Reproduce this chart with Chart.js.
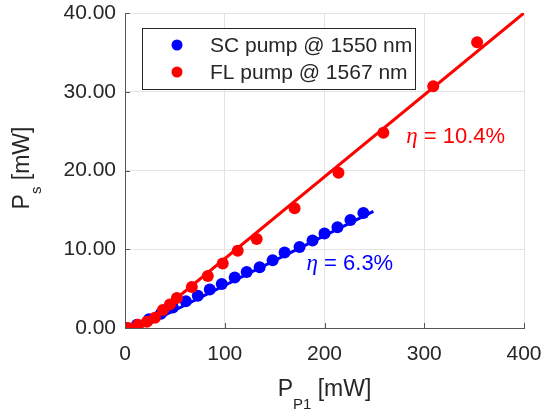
<!DOCTYPE html>
<html>
<head>
<meta charset="utf-8">
<script src="https://cdn.jsdelivr.net/npm/chart.js@4.4.1/dist/chart.umd.min.js"></script>
<style>
  html, body { margin: 0; padding: 0; background: #ffffff; }
  #wrap { width: 546px; height: 412px; position: relative; }
</style>
</head>
<body>
<div id="wrap"><canvas id="c" width="546" height="412"></canvas></div>
<script>
// ---- data ----
const seriesLabels = ['SC pump @ 1550 nm', 'FL pump @ 1567 nm'];
const scX = [0, 12, 24, 36, 48, 61, 73, 85, 97, 110, 122, 135, 148, 160, 175, 188, 200, 213, 226, 239];
const scY = [0.0, 0.4, 1.1, 1.8, 2.6, 3.4, 4.1, 4.9, 5.6, 6.4, 7.1, 7.7, 8.6, 9.6, 10.3, 11.1, 12.0, 12.8, 13.7, 14.6];
const flX = [3, 13, 22, 30, 38, 45, 52, 67, 83, 98, 113, 132, 170, 214, 259, 309, 353];
const flY = [0.0, 0.4, 0.8, 1.3, 2.3, 3.0, 3.8, 5.2, 6.6, 8.2, 9.8, 11.3, 15.2, 19.7, 24.8, 30.7, 36.3];
const scFitX = [14, 249];
const scFitY = [0, 14.8];
const flFitX = [15.4, 400];
const flFitY = [0, 40];
const xTicks = [0, 100, 200, 300, 400];
const yTicks = [0, 10, 20, 30, 40];
const etaLabels = ['6.3%', '10.4%'];
const etaPosX = [182, 282];
const etaPosY = [7.4, 23.5];

const BLUE = '#0000ff';
const RED = '#ff0000';
const TXT = '#262626';
const AX = '#555555';
const FONT = '"Liberation Sans", Arial, Helvetica, sans-serif';

const pts = (xs, ys) => xs.map((x, i) => ({ x: x, y: ys[i] }));

const decor = {
  id: 'decor',
  afterDraw(chart) {
    const ctx = chart.ctx;
    const xs = chart.scales.x, ys = chart.scales.y;
    const ca = chart.chartArea;
    ctx.save();
    // inward ticks
    ctx.strokeStyle = AX;
    ctx.lineWidth = 1;
    xTicks.forEach(v => {
      const px = Math.round(xs.getPixelForValue(v)) + 0.5;
      ctx.beginPath(); ctx.moveTo(px, ca.bottom); ctx.lineTo(px, ca.bottom - 5); ctx.stroke();
    });
    yTicks.forEach(v => {
      const py = Math.round(ys.getPixelForValue(v)) + 0.5;
      ctx.beginPath(); ctx.moveTo(ca.left, py); ctx.lineTo(ca.left + 5, py); ctx.stroke();
    });

    // legend
    const lx = ca.left + 17, ly = ca.top + 15, lw = 273, lh = 61;
    ctx.fillStyle = '#ffffff';
    ctx.fillRect(lx, ly, lw, lh);
    ctx.strokeStyle = '#262626';
    ctx.lineWidth = 1;
    ctx.strokeRect(lx + 0.5, ly + 0.5, lw, lh);
    const legendSets = chart.data.datasets.filter(d => d.inLegend);
    legendSets.forEach((d, i) => {
      const cy = ly + 17 + i * 27;
      ctx.fillStyle = d.backgroundColor;
      ctx.beginPath(); ctx.arc(lx + 35, cy, 5.5, 0, Math.PI * 2); ctx.fill();
      ctx.fillStyle = TXT;
      ctx.font = '21px ' + FONT;
      ctx.textBaseline = 'middle';
      ctx.textAlign = 'left';
      ctx.fillText(d.label, lx + 68, cy + 1);
    });

    // eta annotations
    const etaColors = [BLUE, RED];
    etaLabels.forEach((t, i) => {
      let px = xs.getPixelForValue(etaPosX[i]);
      const py = ys.getPixelForValue(etaPosY[i]);
      ctx.fillStyle = etaColors[i];
      ctx.textBaseline = 'alphabetic';
      ctx.textAlign = 'left';
      ctx.font = 'italic 23px "Liberation Serif", "Times New Roman", serif';
      ctx.fillText('\u03b7', px, py);
      px += ctx.measureText('\u03b7').width;
      ctx.font = '22px ' + FONT;
      ctx.fillText(' = ' + t, px, py);
    });

    // axis titles with subscripts
    function parts(list) {
      let w = 0;
      list.forEach(p => { ctx.font = p.size + 'px ' + FONT; p.w = ctx.measureText(p.t).width; w += p.w; });
      return w;
    }
    ctx.fillStyle = TXT;
    ctx.textAlign = 'left';
    ctx.textBaseline = 'alphabetic';
    const xt = [{ t: 'P', size: 23, dy: 0 }, { t: 'P1', size: 15, dy: 13 }, { t: ' [mW]', size: 23, dy: 0 }];
    let wx = parts(xt);
    let sx = (ca.left + ca.right) / 2 - wx / 2;
    xt.forEach(p => { ctx.font = p.size + 'px ' + FONT; ctx.fillText(p.t, sx, 396 + p.dy); sx += p.w; });

    const yt = [{ t: 'P', size: 23, dy: 0 }, { t: 's', size: 15, dy: 12 }, { t: ' [mW]', size: 23, dy: 0 }];
    let wy = parts(yt);
    ctx.save();
    ctx.translate(29, 168);
    ctx.rotate(-Math.PI / 2);
    let sy = -wy / 2;
    yt.forEach(p => { ctx.font = p.size + 'px ' + FONT; ctx.fillText(p.t, sy, p.dy); sy += p.w; });
    ctx.restore();

    ctx.restore();
  }
};

new Chart(document.getElementById('c'), {
  type: 'scatter',
  data: {
    datasets: [
      { label: seriesLabels[0], inLegend: true, data: pts(scX, scY), backgroundColor: BLUE, borderColor: BLUE, pointRadius: 6, borderWidth: 0, order: 4 },
      { label: 'fit1', data: pts(scFitX, scFitY), showLine: true, borderColor: BLUE, backgroundColor: BLUE, borderWidth: 3, pointRadius: 0, order: 3 },
      { label: seriesLabels[1], inLegend: true, data: pts(flX, flY), backgroundColor: RED, borderColor: RED, pointRadius: 6, borderWidth: 0, order: 2 },
      { label: 'fit2', data: pts(flFitX, flFitY), showLine: true, borderColor: RED, backgroundColor: RED, borderWidth: 3, pointRadius: 0, order: 1 }
    ]
  },
  options: {
    responsive: false,
    animation: false,
    layout: { padding: { left: 0, right: 22, top: 13, bottom: 0 } },
    plugins: { legend: { display: false }, tooltip: { enabled: false } },
    scales: {
      x: {
        type: 'linear', min: 0, max: 400,
        afterBuildTicks: s => { s.ticks = xTicks.map(v => ({ value: v })); },
        afterFit: s => { s.height = 84; s.paddingLeft = 0; s.paddingRight = 0; s.paddingTop = 0; s.paddingBottom = 0; },
        grid: { color: '#e3e3e3', drawTicks: false },
        border: { color: AX, width: 1 },
        ticks: { color: TXT, font: { family: FONT, size: 21 }, padding: 14 }
      },
      y: {
        type: 'linear', min: 0, max: 40,
        afterBuildTicks: s => { s.ticks = yTicks.map(v => ({ value: v })); },
        afterFit: s => { s.width = 125; s.paddingLeft = 0; s.paddingRight = 0; s.paddingTop = 0; s.paddingBottom = 0; },
        grid: { color: '#e3e3e3', drawTicks: false },
        border: { color: AX, width: 1 },
        ticks: { color: TXT, font: { family: FONT, size: 21 }, padding: 9, callback: v => Number(v).toFixed(2) }
      }
    }
  },
  plugins: [decor]
});
</script>
</body>
</html>
